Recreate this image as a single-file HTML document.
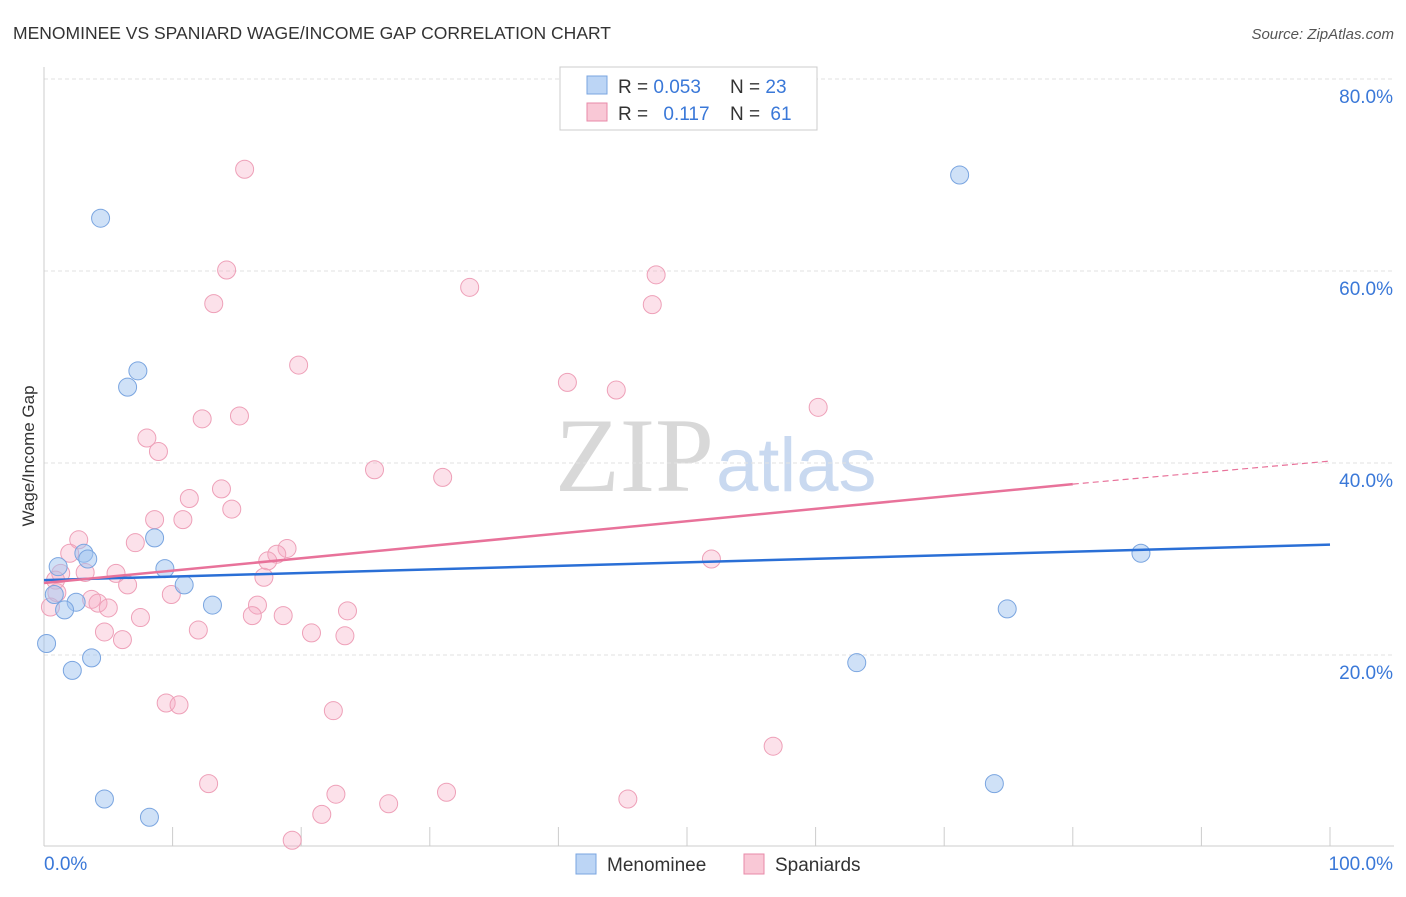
<!DOCTYPE html>
<html><head><meta charset="utf-8"><style>
body{margin:0;background:#fff;font-family:"Liberation Sans",sans-serif;}
#wrap{position:relative;width:1406px;height:892px;}
</style></head><body>
<div id="wrap">
<svg id="svg" width="1406" height="892" xmlns="http://www.w3.org/2000/svg">
<text x="13" y="39" font-size="17.5" fill="#333">MENOMINEE VS SPANIARD WAGE/INCOME GAP CORRELATION CHART</text>
<text x="1394" y="39" font-size="15" fill="#555" text-anchor="end" font-style="italic">Source: ZipAtlas.com</text>
<text x="34" y="456" font-size="17" fill="#333" text-anchor="middle" transform="rotate(-90 34 456)">Wage/Income Gap</text>
<text x="714" y="491" font-size="106" fill="#d8d8d8" text-anchor="end" font-family="Liberation Serif,serif">ZIP</text>
<text x="716" y="491" font-size="76" fill="#c9d9f0">atlas</text>
<g id="grid"></g><g id="pts"></g><g id="lines"></g>
<g>
<rect x="560" y="67" width="257" height="63" fill="#fff" stroke="#ccc"/>
<rect x="587" y="76" width="20" height="18" fill="#bcd5f5" stroke="#7aa5e0"/>
<rect x="587" y="103" width="20" height="18" fill="#f9c8d6" stroke="#e88aa8"/>
<text x="618" y="93" font-size="19" fill="#333">R = <tspan fill="#3a78d8">0.053</tspan></text>
<text x="730" y="93" font-size="19" fill="#333">N = <tspan fill="#3a78d8">23</tspan></text>
<text x="618" y="120" font-size="19" fill="#333">R = <tspan fill="#3a78d8" dx="10">0.117</tspan></text>
<text x="730" y="120" font-size="19" fill="#333">N = <tspan fill="#3a78d8" dx="5">61</tspan></text>
</g>
<g>
<rect x="576" y="854" width="20" height="20" fill="#bcd5f5" stroke="#7aa5e0"/>
<text x="607" y="871" font-size="19" fill="#333">Menominee</text>
<rect x="744" y="854" width="20" height="20" fill="#f9c8d6" stroke="#e88aa8"/>
<text x="775" y="871" font-size="19" fill="#333">Spaniards</text>
</g>
</svg>
</div>
<script>
const yTicks=[20,40,60,80];
const xTickLabels=["0.0%","100.0%"];
const blueX=[4.4,71.2,7.3,6.5,8.6,3.1,3.4,1.1,9.4,10.9,0.8,2.5,1.6,13.1,85.3,74.9,0.2,2.2,3.7,63.2,73.9,4.7,8.2];
const blueY=[65.5,70,49.6,47.9,32.2,30.6,30,29.2,29,27.3,26.3,25.5,24.7,25.2,30.6,24.8,21.2,18.4,19.7,19.2,6.6,5,3.1];
const pinkX=[15.6,14.2,13.2,33.1,47.6,47.3,19.8,40.7,44.5,60.2,12.3,15.2,8,8.9,25.7,31,13.8,11.3,14.6,8.6,10.8,2.7,7.1,2,18.9,18.1,17.4,51.9,1.3,5.6,3.2,0.9,17.1,6.5,1,9.9,3.7,4.2,5,16.6,0.5,23.6,7.5,16.2,18.6,12,4.7,20.8,23.4,6.1,9.5,10.5,22.5,56.7,12.8,22.7,31.3,26.8,45.4,21.6,19.3];
const pinkY=[70.6,60.1,56.6,58.3,59.6,56.5,50.2,48.4,47.6,45.8,44.6,44.9,42.6,41.2,39.3,38.5,37.3,36.3,35.2,34.1,34.1,32,31.7,30.6,31.1,30.5,29.8,30,28.5,28.5,28.6,27.8,28.1,27.3,26.5,26.3,25.8,25.4,24.9,25.2,25,24.6,23.9,24.1,24.1,22.6,22.4,22.3,22,21.6,15,14.8,14.2,10.5,6.6,5.5,5.7,4.5,5,3.4,0.7];
const blueFit=[27.8,31.5], pinkFit=[27.5,37.8,40.2];
const X0=44,X1=1330,Y0=847,PY=9.6;
const sx=v=>X0+(X1-X0)*v/100, sy=v=>Y0-v*PY;
const NS="http://www.w3.org/2000/svg";
function mk(tag,attrs,parent){const e=document.createElementNS(NS,tag);for(const k in attrs)e.setAttribute(k,attrs[k]);parent.appendChild(e);return e;}
const grid=document.getElementById('grid');
yTicks.forEach(t=>{
 const l=mk('line',{x1:X0,x2:1394,y1:sy(t),y2:sy(t),stroke:'#e2e2e2','stroke-dasharray':'4 3'},grid);
 
 
 const tx=mk('text',{x:1393,y:sy(t)+24,'font-size':19,fill:'#3a78d8','text-anchor':'end'},grid);
 tx.textContent=t.toFixed(1)+'%';
 
 
});
const ax=mk('line',{x1:X0,x2:X0,y1:67,y2:846,stroke:'#ccc'},grid);


const bx=mk('line',{x1:X0,x2:1394,y1:846,y2:846,stroke:'#ccc'},grid);


for(let i=0;i<=10;i++){const t=mk('line',{x1:sx(i*10),x2:sx(i*10),y1:827,y2:846,stroke:'#ccc'},grid);
 
 }
xTickLabels.forEach((s,i)=>{const t=mk('text',{x:i?1393:44,y:870,'font-size':19,fill:'#3a78d8','text-anchor':i?'end':'start'},grid);t.textContent=s;
 
 });
const pts=document.getElementById('pts');
pinkX.forEach((x,i)=>{const c=mk('circle',{cx:sx(x),cy:sy(pinkY[i]),r:9,fill:'rgba(246,170,195,0.35)',stroke:'#eea0b8','stroke-width':1},pts);
 
 });
blueX.forEach((x,i)=>{const c=mk('circle',{cx:sx(x),cy:sy(blueY[i]),r:9,fill:'rgba(160,195,240,0.5)',stroke:'#7aa5e0','stroke-width':1},pts);
 
 });
const lines=document.getElementById('lines');
const bl=mk('line',{x1:sx(0),y1:sy(blueFit[0]),x2:sx(100),y2:sy(blueFit[1]),stroke:'#2a6fd6','stroke-width':2.5},lines);


const pl=mk('line',{x1:sx(0),y1:sy(pinkFit[0]),x2:sx(80),y2:sy(pinkFit[1]),stroke:'#e8729a','stroke-width':2.5},lines);


const pd=mk('line',{x1:sx(80),y1:sy(pinkFit[1]),x2:sx(100),y2:sy(pinkFit[2]),stroke:'#e8729a','stroke-width':1.2,'stroke-dasharray':'6 4'},lines);


</script>
</body></html>
